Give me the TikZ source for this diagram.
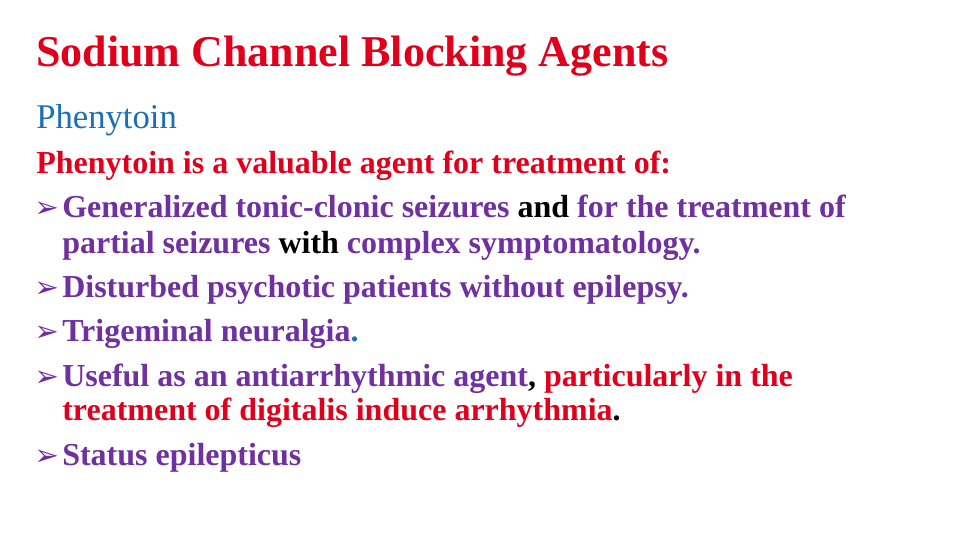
\documentclass[tikz,border=0pt]{standalone}
\usepackage{fontspec}
\setmainfont{LiberationSerif}[Extension=.ttf,UprightFont=*-Regular,BoldFont=*-Bold,ItalicFont=*-Italic,BoldItalicFont=*-BoldItalic]
\newfontfamily\dv{DejaVu Sans}
\definecolor{tred}{HTML}{E0001B}
\definecolor{tblue}{HTML}{1A6FB5}
\definecolor{tpur}{HTML}{7030A0}
\begin{document}
\begin{tikzpicture}[x=0.75pt,y=-0.75pt,
  txt/.style={anchor=base west,inner sep=0pt,font=\fontsize{24}{28}\selectfont\bfseries,text=tpur},
  bul/.style={anchor=base west,inner sep=0pt,font=\dv\fontsize{22}{24}\selectfont\bfseries,text=tpur}]
\path[use as bounding box,fill=white] (0,0) rectangle (960,540);
\node[anchor=base west,inner sep=0pt,font=\fontsize{33}{38}\selectfont\bfseries,text=tred] (title) at (36,66) {Sodium Channel Blocking Agents};
\node[anchor=base west,inner sep=0pt,font=\fontsize{26}{30}\selectfont,text=tblue] (head) at (36,128) {Phenytoin};
\node[txt,text=tred] (l1) at (36,173) {Phenytoin is a valuable agent for treatment of:};
\node[bul] (b1) at (34,217) {➢};
\node[txt] (t1) at (62,217) {Generalized tonic-clonic seizures \textcolor{black}{and} for the treatment of};
\node[txt] (t1b) at (62,253) {partial seizures \textcolor{black}{with} complex symptomatology.};
\node[bul] (b2) at (34,297) {➢};
\node[txt] (t2) at (62,297) {Disturbed psychotic patients without epilepsy.};
\node[bul] (b3) at (34,341) {➢};
\node[txt] (t3) at (62,341) {Trigeminal neuralgia\textcolor{tblue}{.}};
\node[bul] (b4) at (34,386) {➢};
\node[txt] (t4) at (62,386) {Useful as an antiarrhythmic agent\textcolor{black}{,} \textcolor{tred}{particularly in the}};
\node[txt,text=tred] (t4b) at (62,420) {treatment of digitalis induce arrhythmia\textcolor{black}{.}};
\node[bul] (b5) at (34,465) {➢};
\node[txt] (t5) at (62,465) {Status epilepticus};
\end{tikzpicture}
\end{document}
